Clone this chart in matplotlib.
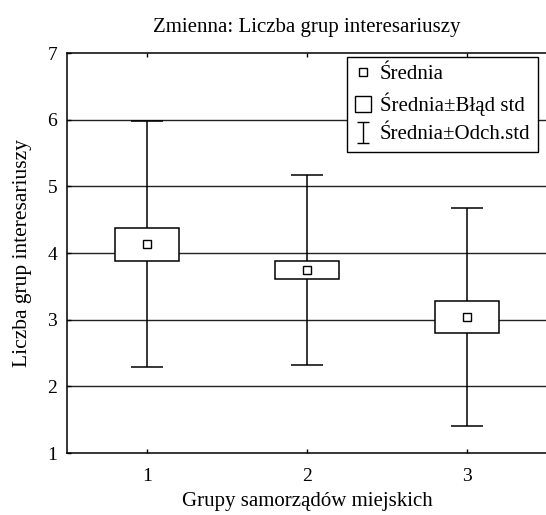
import matplotlib as mpl
mpl.use('agg')
import matplotlib.pyplot as plt
from matplotlib.lines import Line2D
import numpy as np

# group data
groups = [1, 2, 3]
means = [4.13, 3.745, 3.045]
std_err = [0.25, 0.13, 0.24]
std_dev = [1.845, 1.42, 1.635]

title = 'Zmienna: Liczba grup interesariuszy'
x_label = 'Grupy samorządów miejskich'
y_label = 'Liczba grup interesariuszy'
legend_labels = ['Średnia', 'Średnia±Błąd std', 'Średnia±Odch.std']

plt.rcParams['font.family'] = ['Liberation Serif', 'DejaVu Serif']

fig = plt.figure(figsize=(5.46, 5.15), dpi=100)
ax = fig.add_axes([67/546, 1 - 453/515, 480/546, 400/515])

x = np.array(groups, dtype=float)
m = np.array(means)
se = np.array(std_err)
sd = np.array(std_dev)

# grid behind everything
for yv in range(2, 7):
    ax.axhline(yv, color='#222222', lw=1.0, zorder=0)

# whiskers: mean +- std dev
ax.errorbar(x, m, yerr=sd, fmt='none', ecolor='black', elinewidth=1.1,
            capsize=11.5, capthick=1.1, zorder=2)

# boxes: mean +- std err
ax.bar(x, 2 * se, bottom=m - se, width=0.405, color='white',
       edgecolor='black', linewidth=1.1, zorder=3)

# mean markers
ax.plot(x, m, ls='none', marker='s', ms=6, mfc='white', mec='black',
        mew=1.0, zorder=4)

ax.set_xlim(0.5, 3.5)
ax.set_ylim(1, 7)
ax.set_xticks(groups)
ax.set_yticks(range(1, 8))
ax.tick_params(axis='both', direction='in', length=3, labelsize=14, width=1)
ax.tick_params(axis='x', top=True, pad=11)
ax.tick_params(axis='y', pad=7)
for s in ['left', 'bottom', 'top']:
    ax.spines[s].set_linewidth(1.1)
ax.spines['right'].set_visible(False)

ax.set_title(title, fontsize=15, pad=15)
ax.set_xlabel(x_label, fontsize=15, labelpad=5)
ax.set_ylabel(y_label, fontsize=15.5, labelpad=11)

# legend handles
h_mean = Line2D([], [], ls='none', marker='s', ms=5.5, mfc='white',
                mec='black', mew=1.0)
h_box = Line2D([], [], ls='none', marker='s', ms=11, mfc='white',
               mec='black', mew=1.0)
h_sd = ax.errorbar([np.nan], [np.nan], yerr=[1], fmt='none', ecolor='black',
                   elinewidth=1.0, capsize=4.5, capthick=1.0)
leg = ax.legend([h_mean, h_box, h_sd], legend_labels, loc='upper right',
                bbox_to_anchor=(0.981, 0.99), borderaxespad=0,
                fontsize=15, fancybox=False, framealpha=1,
                edgecolor='black', handlelength=0.9, handletextpad=0.35,
                borderpad=0.35, labelspacing=0.42)
leg.get_frame().set_linewidth(1.0)

plt.savefig('out.png', dpi=100)
